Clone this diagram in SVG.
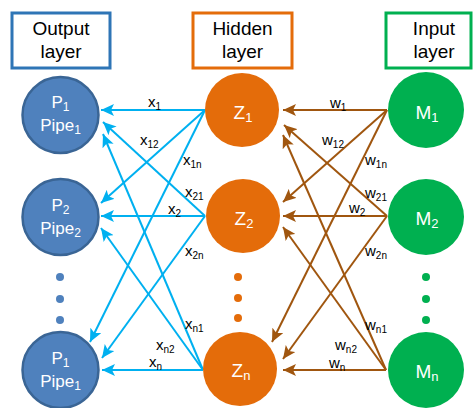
<svg xmlns="http://www.w3.org/2000/svg" width="473" height="408" viewBox="0 0 473 408">
<defs>
<style>
.lbl{font-family:"Liberation Sans",Arial,sans-serif;font-size:15px;fill:#000}
.ttl{font-family:"Liberation Sans",Arial,sans-serif;font-size:19px;fill:#000;text-anchor:middle}
.nt{font-family:"Liberation Sans",Arial,sans-serif;fill:#fff;text-anchor:middle}
.pn{fill:#4F81BD;stroke:#3A6595;stroke-width:2.5}
.zn{fill:#E46C0A}
.mn{fill:#00B050}
.bl{stroke:#00B0F0;stroke-width:2;fill:none;marker-end:url(#ab)}
.br{stroke:#A0560F;stroke-width:2;fill:none;marker-end:url(#ar)}
</style>
<marker id="ab" markerUnits="userSpaceOnUse" markerWidth="14" markerHeight="12" viewBox="0 0 14 12" refX="13" refY="6" orient="auto"><path d="M0,0 L13,6 L0,12 L3,6 Z" fill="#00B0F0"/></marker>
<marker id="ar" markerUnits="userSpaceOnUse" markerWidth="14" markerHeight="12" viewBox="0 0 14 12" refX="13" refY="6" orient="auto"><path d="M0,0 L13,6 L0,12 L3,6 Z" fill="#A0560F"/></marker>
</defs>
<rect width="473" height="408" fill="#fff"/>
<g id="title-output"><rect x="12" y="13" width="98" height="55" fill="#fff" stroke="#2E75B6" stroke-width="3"/><text class="ttl" x="61" y="35">Output</text><text class="ttl" x="61" y="58">layer</text></g>
<g id="title-hidden"><rect x="193" y="13" width="99" height="55" fill="#fff" stroke="#E46C0A" stroke-width="3"/><text class="ttl" x="242.5" y="35">Hidden</text><text class="ttl" x="242.5" y="58">layer</text></g>
<g id="title-input"><rect x="386" y="13" width="85" height="55" fill="#fff" stroke="#00B050" stroke-width="3"/><text class="ttl" x="434" y="35">Input</text><text class="ttl" x="434" y="58">layer</text></g>
<g id="connectors">
<line class="bl" x1="205" y1="110" x2="101" y2="110"/>
<line class="bl" x1="205" y1="110" x2="101" y2="203"/>
<line class="bl" x1="205" y1="110" x2="90" y2="342"/>
<line class="bl" x1="205" y1="216" x2="103" y2="122"/>
<line class="bl" x1="205" y1="216" x2="101" y2="216"/>
<line class="bl" x1="205" y1="216" x2="102" y2="358"/>
<line class="bl" x1="203" y1="370" x2="103" y2="134"/>
<line class="bl" x1="203" y1="370" x2="101" y2="228"/>
<line class="bl" x1="203" y1="370" x2="102" y2="370"/>
<line class="br" x1="387" y1="110" x2="283" y2="110"/>
<line class="br" x1="387" y1="110" x2="283" y2="202"/>
<line class="br" x1="387" y1="110" x2="272" y2="342"/>
<line class="br" x1="387" y1="216" x2="284" y2="125"/>
<line class="br" x1="387" y1="216" x2="283" y2="216"/>
<line class="br" x1="387" y1="216" x2="283" y2="359"/>
<line class="br" x1="386" y1="370" x2="283" y2="135"/>
<line class="br" x1="386" y1="370" x2="283" y2="227"/>
<line class="br" x1="386" y1="370" x2="283" y2="370"/>
<text class="lbl" x="148" y="107">x<tspan font-size="10" dy="3">1</tspan></text>
<text class="lbl" x="140" y="145">x<tspan font-size="10" dy="3">12</tspan></text>
<text class="lbl" x="183" y="165">x<tspan font-size="10" dy="3">1n</tspan></text>
<text class="lbl" x="185" y="197">x<tspan font-size="10" dy="3">21</tspan></text>
<text class="lbl" x="168" y="214">x<tspan font-size="10" dy="3">2</tspan></text>
<text class="lbl" x="185" y="256">x<tspan font-size="10" dy="3">2n</tspan></text>
<text class="lbl" x="185" y="329">x<tspan font-size="10" dy="3">n1</tspan></text>
<text class="lbl" x="156" y="350">x<tspan font-size="10" dy="3">n2</tspan></text>
<text class="lbl" x="149" y="367">x<tspan font-size="10" dy="3">n</tspan></text>
<text class="lbl" x="330" y="108">w<tspan font-size="10" dy="3">1</tspan></text>
<text class="lbl" x="322" y="145">w<tspan font-size="10" dy="3">12</tspan></text>
<text class="lbl" x="365" y="165">w<tspan font-size="10" dy="3">1n</tspan></text>
<text class="lbl" x="365" y="198">w<tspan font-size="10" dy="3">21</tspan></text>
<text class="lbl" x="349" y="213">w<tspan font-size="10" dy="3">2</tspan></text>
<text class="lbl" x="365" y="256">w<tspan font-size="10" dy="3">2n</tspan></text>
<text class="lbl" x="365" y="330">w<tspan font-size="10" dy="3">n1</tspan></text>
<text class="lbl" x="335" y="350">w<tspan font-size="10" dy="3">n2</tspan></text>
<text class="lbl" x="329" y="368">w<tspan font-size="10" dy="3">n</tspan></text>
</g>
<g id="P1"><circle class="pn" cx="60.5" cy="115" r="38"/><text class="nt" x="60.5" y="108" font-size="17">P<tspan font-size="12" dy="3">1</tspan></text><text class="nt" x="60.5" y="131" font-size="17">Pipe<tspan font-size="12" dy="3">1</tspan></text></g>
<g id="P2"><circle class="pn" cx="60.5" cy="217" r="38"/><text class="nt" x="60.5" y="211" font-size="17">P<tspan font-size="12" dy="3">2</tspan></text><text class="nt" x="60.5" y="234" font-size="17">Pipe<tspan font-size="12" dy="3">2</tspan></text></g>
<g id="Pn"><circle class="pn" cx="60.5" cy="370" r="38"/><text class="nt" x="60.5" y="364" font-size="17">P<tspan font-size="12" dy="3">1</tspan></text><text class="nt" x="60.5" y="387" font-size="17">Pipe<tspan font-size="12" dy="3">1</tspan></text></g>
<g id="P-dots" fill="#4F81BD"><circle cx="60" cy="277" r="4"/><circle cx="60" cy="299" r="4"/><circle cx="60" cy="320" r="4"/></g>
<g id="Z1"><circle class="zn" cx="242" cy="110" r="37"/><text class="nt" x="243" y="119" font-size="19">Z<tspan font-size="13" dy="3">1</tspan></text></g>
<g id="Z2"><circle class="zn" cx="243" cy="216" r="37"/><text class="nt" x="244" y="225" font-size="19">Z<tspan font-size="13" dy="3">2</tspan></text></g>
<g id="Zn"><circle class="zn" cx="240" cy="369" r="37"/><text class="nt" x="241" y="377" font-size="19">Z<tspan font-size="13" dy="3">n</tspan></text></g>
<g id="Z-dots" fill="#E46C0A"><circle cx="238" cy="277" r="4"/><circle cx="238" cy="298" r="4"/><circle cx="238" cy="318" r="4"/></g>
<g id="M1"><circle class="mn" cx="426" cy="110" r="38"/><text class="nt" x="427" y="119" font-size="19">M<tspan font-size="13" dy="3">1</tspan></text></g>
<g id="M2"><circle class="mn" cx="426" cy="217" r="38"/><text class="nt" x="427" y="225" font-size="19">M<tspan font-size="13" dy="3">2</tspan></text></g>
<g id="Mn"><circle class="mn" cx="426" cy="370" r="38"/><text class="nt" x="427" y="378" font-size="19">M<tspan font-size="13" dy="3">n</tspan></text></g>
<g id="M-dots" fill="#00B050"><circle cx="426" cy="277" r="4"/><circle cx="426" cy="299" r="4"/><circle cx="426" cy="320" r="4"/></g>
</svg>
